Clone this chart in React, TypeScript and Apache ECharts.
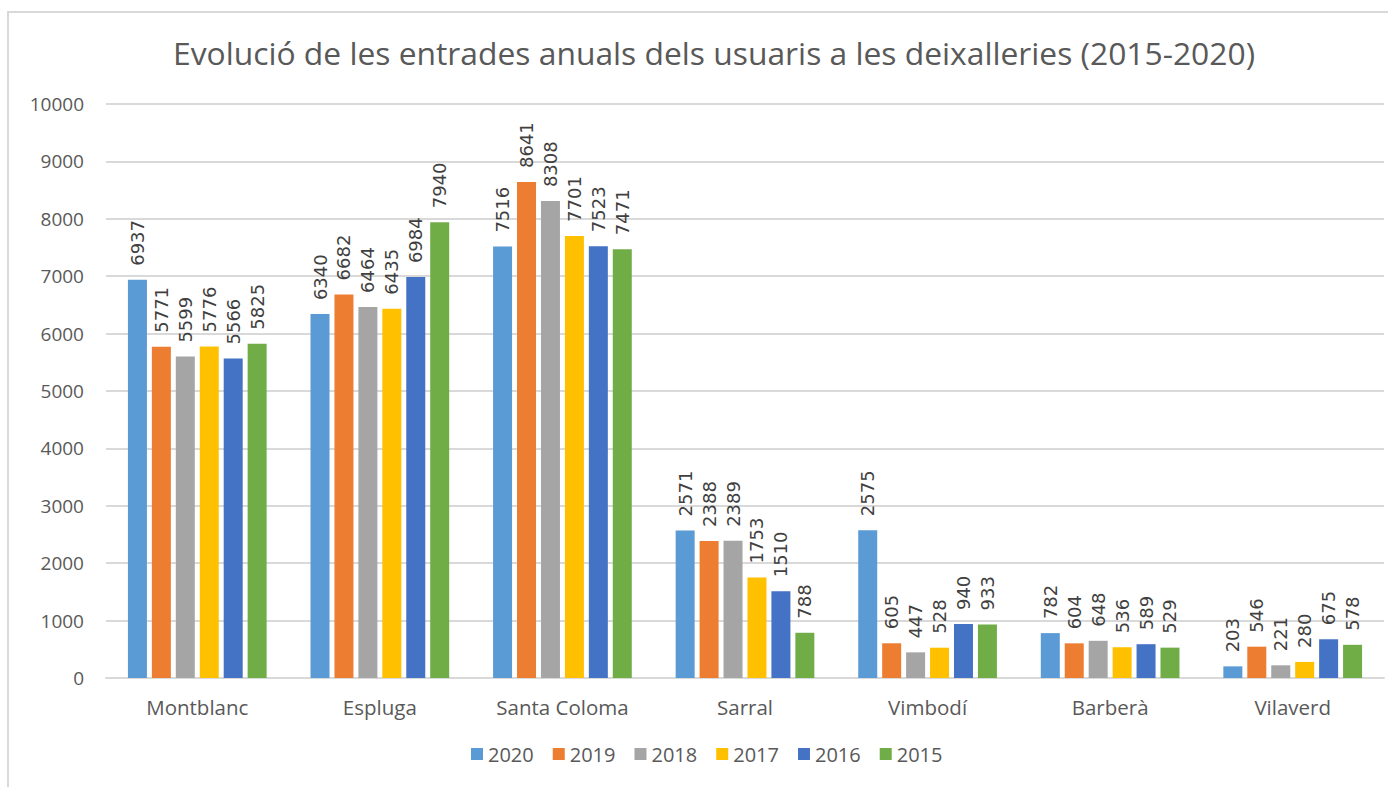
import React, { useEffect, useRef } from "react";
import * as echarts from "echarts";

const categories = ["Montblanc", "Espluga", "Santa Coloma", "Sarral", "Vimbodí", "Barberà", "Vilaverd"];
const years = ["2020", "2019", "2018", "2017", "2016", "2015"];
const colors = ["#5B9BD5", "#ED7D31", "#A5A5A5", "#FFC000", "#4472C4", "#70AD47"];

const v2020 = [6937, 6340, 7516, 2571, 2575, 782, 203];
const v2019 = [5771, 6682, 8641, 2388, 605, 604, 546];
const v2018 = [5599, 6464, 8308, 2389, 447, 648, 221];
const v2017 = [5776, 6435, 7701, 1753, 528, 536, 280];
const v2016 = [5566, 6984, 7523, 1510, 940, 589, 675];
const v2015 = [5825, 7940, 7471, 788, 933, 529, 578];
const seriesValues = [v2020, v2019, v2018, v2017, v2016, v2015];

const yTicks = { min: 0, max: 10000, interval: 1000 };
const titleText = "Evolució de les entrades anuals dels usuaris a les deixalleries (2015-2020)";

export default function App() {
  const ref = useRef<HTMLDivElement>(null);
  useEffect(() => {
    if (!ref.current) return;
    const chart = echarts.init(ref.current, null, { renderer: "svg" });
    const font = "'Open Sans', sans-serif";
    chart.setOption({
      animation: false,
      backgroundColor: "#ffffff",
      textStyle: { fontFamily: font },
      title: {
        text: titleText,
        left: 709,
        top: 31,
        textAlign: "center",
        textStyle: { fontFamily: font, fontSize: 31.8, fontWeight: "normal", color: "#595959" },
      },
      graphic: [
        {
          type: "rect",
          shape: { x: 8, y: 12, width: 1420, height: 800 },
          style: { fill: "none", stroke: "#d9d9d9", lineWidth: 2 },
          silent: true,
        },
      ],
      legend: {
        data: years,
        bottom: 18,
        left: 466,
        itemWidth: 12,
        itemHeight: 12,
        itemGap: 19,
        icon: "rect",
        textStyle: { fontFamily: font, fontSize: 20, color: "#595959" },
      },
      grid: { left: 106, right: 4, top: 104, bottom: 109, containLabel: false },
      xAxis: {
        type: "category",
        data: categories,
        axisLine: { show: true, lineStyle: { color: "#d9d9d9", width: 2 } },
        axisTick: { show: false },
        axisLabel: { fontFamily: font, fontSize: 20.5, color: "#595959", margin: 18 },
      },
      yAxis: {
        type: "value",
        min: yTicks.min,
        max: yTicks.max,
        interval: yTicks.interval,
        axisLine: { show: false },
        axisTick: { show: false },
        splitLine: { lineStyle: { color: "#d9d9d9", width: 2 } },
        axisLabel: {
          fontFamily: font,
          fontSize: 19,
          color: "#595959",
          margin: 22,
          formatter: (v: number) => String(v),
        },
      },
      series: years.map((y, i) => ({
        name: y,
        type: "bar",
        data: seriesValues[i],
        barWidth: 19,
        barGap: "26%",
        itemStyle: { color: colors[i] },
        label: {
          show: true,
          position: "top",
          rotate: 90,
          align: "left",
          verticalAlign: "middle",
          distance: 14,
          fontFamily: "'DejaVu Sans', sans-serif",
          fontSize: 18,
          color: "#404040",
        },
      })),
    });
    return () => chart.dispose();
  }, []);
  return (
    <div
      ref={ref}
      style={{ position: "absolute", left: 0, top: 0, width: 1388, height: 787 }}
    />
  );
}
